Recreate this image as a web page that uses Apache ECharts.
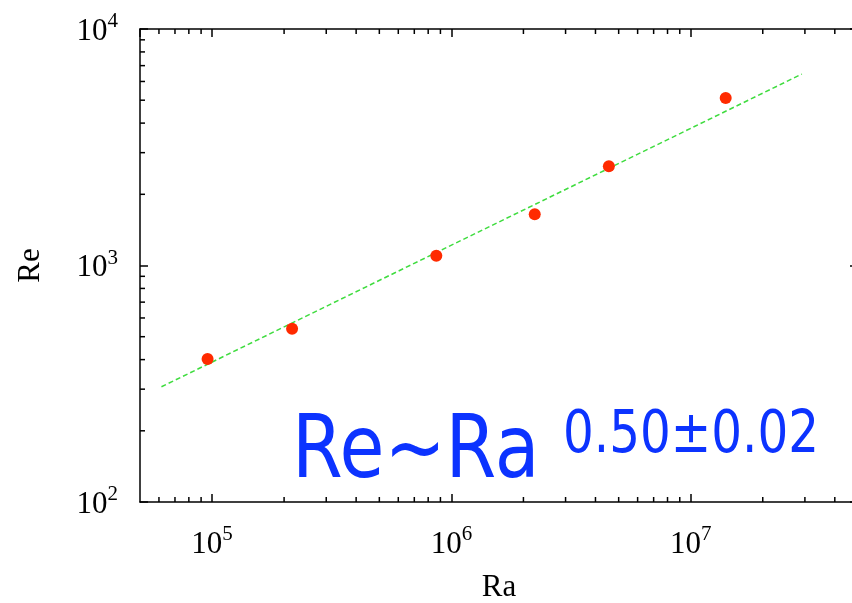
<!DOCTYPE html>
<html>
<head>
<meta charset="utf-8">
<script src="https://cdn.jsdelivr.net/npm/echarts@6/dist/echarts.min.js"></script>
<style>
  html, body { margin: 0; padding: 0; background: #fff; }
  #main { width: 852px; height: 603px; }
</style>
</head>
<body>
<div id="main"></div>
<script>
// measured points, Ra vs Re
const raValues = [9.58e4, 2.16e5, 8.65e5, 2.23e6, 4.55e6, 1.40e7];
const reValues = [402, 540, 1100, 1648, 2630, 5105];

// fitted power law, drawn between its two end points
const fitRa = [6.145e4, 2.914e7];
const fitRe = [307, 6449];

// axis ranges
const xRange = [5e4, 5e7];
const yRange = [100, 10000];

// minor ticks of the log axes
const xMinorTicks = [6e4, 7e4, 8e4, 9e4,
  2e5, 3e5, 4e5, 5e5, 6e5, 7e5, 8e5, 9e5,
  2e6, 3e6, 4e6, 5e6, 6e6, 7e6, 8e6, 9e6,
  2e7, 3e7, 4e7];
const yMinorTicks = [200, 300, 400, 500, 600, 700, 800, 900,
  2000, 3000, 4000, 5000, 6000, 7000, 8000, 9000];

const chart = echarts.init(document.getElementById('main'), null, { renderer: 'canvas' });

const serif = 'Liberation Serif';
const lineStyle = { color: '#000', width: 1.5 };

function powLabel(value) {
  return '{b|10}{s|' + Math.round(Math.log10(value)) + '}';
}
const labelRich = {
  b: { fontSize: 31, fontFamily: serif, color: '#000', lineHeight: 36, verticalAlign: 'bottom' },
  s: { fontSize: 21, fontFamily: serif, color: '#000', lineHeight: 22, verticalAlign: 'top' }
};

function minorX(params, api) {
  const v = api.value(0);
  const b = api.coord([v, yRange[0]]);
  const t = api.coord([v, yRange[1]]);
  return {
    type: 'group',
    children: [
      { type: 'line', shape: { x1: b[0], y1: b[1], x2: b[0], y2: b[1] - 5 }, style: { stroke: '#000', lineWidth: 1.5 } },
      { type: 'line', shape: { x1: t[0], y1: t[1], x2: t[0], y2: t[1] + 5 }, style: { stroke: '#000', lineWidth: 1.5 } }
    ]
  };
}
function minorY(params, api) {
  const v = api.value(1);
  const l = api.coord([xRange[0], v]);
  const r = api.coord([xRange[1], v]);
  return {
    type: 'group',
    children: [
      { type: 'line', shape: { x1: l[0], y1: l[1], x2: l[0] + 5, y2: l[1] }, style: { stroke: '#000', lineWidth: 1.5 } },
      { type: 'line', shape: { x1: r[0], y1: r[1], x2: r[0] - 5, y2: r[1] }, style: { stroke: '#000', lineWidth: 1.5 } }
    ]
  };
}

const option = {
  backgroundColor: '#fff',
  animation: false,
  grid: { left: 140, top: 29, width: 718, height: 473, outerBoundsMode: 'none', containLabel: false },
  xAxis: [{
    type: 'log', logBase: 10, min: xRange[0], max: xRange[1],
    position: 'bottom',
    name: 'Ra', nameLocation: 'middle', nameGap: 70,
    nameTextStyle: { fontFamily: serif, fontSize: 31, color: '#000' },
    axisLine: { lineStyle: lineStyle },
    axisTick: { inside: true, length: 8, lineStyle: lineStyle },
    axisLabel: { formatter: powLabel, rich: labelRich, margin: 22, showMinLabel: false, showMaxLabel: false },
    splitLine: { show: false }
  }, {
    type: 'log', logBase: 10, min: xRange[0], max: xRange[1],
    position: 'top',
    axisLine: { lineStyle: lineStyle },
    axisTick: { inside: true, length: 8, lineStyle: lineStyle },
    axisLabel: { show: false },
    splitLine: { show: false }
  }],
  yAxis: [{
    type: 'log', logBase: 10, min: yRange[0], max: yRange[1],
    position: 'left',
    name: 'Re', nameLocation: 'middle', nameGap: 94, nameRotate: 90,
    nameTextStyle: { fontFamily: serif, fontSize: 31, color: '#000' },
    axisLine: { lineStyle: lineStyle },
    axisTick: { inside: true, length: 8, lineStyle: lineStyle },
    axisLabel: { formatter: powLabel, rich: labelRich, margin: 22 },
    splitLine: { show: false }
  }, {
    type: 'log', logBase: 10, min: yRange[0], max: yRange[1],
    position: 'right',
    axisLine: { lineStyle: lineStyle },
    axisTick: { inside: true, length: 8, lineStyle: lineStyle },
    axisLabel: { show: false },
    splitLine: { show: false }
  }],
  series: [{
    type: 'custom',
    renderItem: minorX,
    clip: false,
    silent: true,
    data: xMinorTicks.map(v => [v, yRange[0]])
  }, {
    type: 'custom',
    renderItem: minorY,
    clip: false,
    silent: true,
    data: yMinorTicks.map(v => [xRange[0], v])
  }, {
    name: 'fit',
    type: 'line',
    data: fitRa.map((x, i) => [x, fitRe[i]]),
    symbol: 'none',
    lineStyle: { color: '#3fdc3f', width: 1.5, type: [5, 3] },
    z: 3
  }, {
    name: 'Re',
    type: 'scatter',
    data: raValues.map((x, i) => [x, reValues[i]]),
    symbol: 'circle',
    symbolSize: 12,
    itemStyle: { color: '#ff2a00', opacity: 1 },
    z: 4
  }],
  graphic: [{
    type: 'text',
    x: 292, y: 410,
    scaleX: 0.83,
    style: {
      text: 'Re~Ra',
      font: '88px "DejaVu Sans"',
      fill: '#0c33ff',
      textAlign: 'left',
      textVerticalAlign: 'top'
    }
  }, {
    type: 'text',
    x: 563, y: 407,
    scaleX: 0.82,
    style: {
      text: '0.50±0.02',
      font: '59px "DejaVu Sans"',
      fill: '#0c33ff',
      textAlign: 'left',
      textVerticalAlign: 'top'
    }
  }]
};

chart.setOption(option);
</script>
</body>
</html>
